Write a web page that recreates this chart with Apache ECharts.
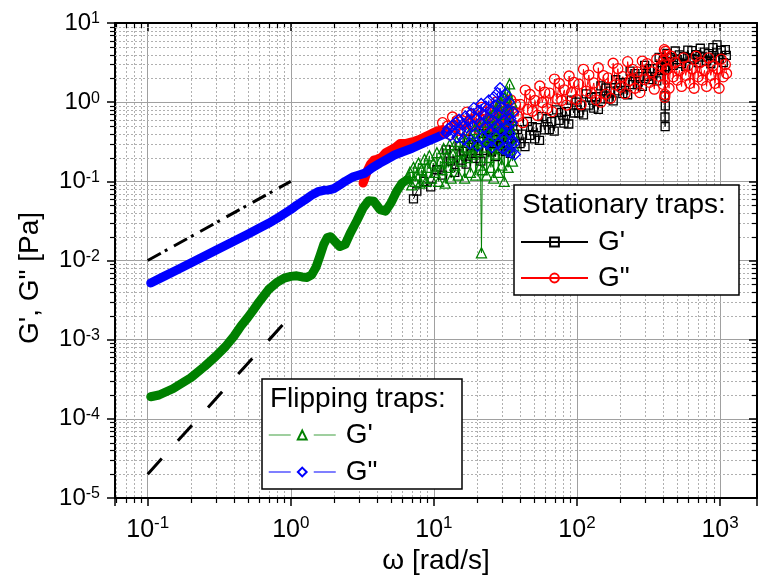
<!DOCTYPE html>
<html>
<head>
<meta charset="UTF-8">
<title>G', G" vs omega</title>
<script src="https://cdn.jsdelivr.net/npm/echarts@6/dist/echarts.min.js"></script>
<style>
  html, body { margin: 0; padding: 0; background: #fff; }
  #chart { width: 759px; height: 585px; }
</style>
</head>
<body>
<div id="chart"></div>
<script>
// axis ranges
const xMin = 0.0591, xMax = 1811, yMin = 1e-5, yMax = 10;
const xDecades = [0.01, 0.1, 1, 10, 100, 1000];
const yDecades = [1e-5, 1e-4, 1e-3, 1e-2, 1e-1, 1];
const minorSteps = [2, 3, 4, 5, 6, 7, 8, 9];

// guide lines (slope 1 and slope 2)
const refX = [0.1, 1];
const refSlope1Y = [0.01, 0.1];
const refSlope2Y = [2e-5, 2e-3];

// flipping traps G' : dense low-frequency part
const flipG1BandX = [0.105, 0.12, 0.15, 0.2, 0.25, 0.3, 0.35, 0.4, 0.45, 0.5, 0.55, 0.6, 0.7, 0.8, 0.9, 1.0, 1.1, 1.2, 1.3, 1.4,
  1.5, 1.6, 1.7, 1.8, 1.9, 2.0, 2.2, 2.4, 2.6, 2.9, 3.2, 3.5, 3.8, 4.2, 4.6, 5.0, 5.5, 6.0, 6.5];
const flipG1BandY = [1.9e-4, 2.0e-4, 2.4e-4, 3.3e-4, 4.6e-4, 6.2e-4, 8.2e-4, 1.1e-3, 1.5e-3, 1.9e-3, 2.4e-3, 3.0e-3, 4.3e-3, 5.3e-3, 6.0e-3, 6.3e-3, 6.4e-3, 6.2e-3, 6.1e-3, 6.6e-3,
  8.2e-3, 1.15e-2, 1.6e-2, 1.95e-2, 2.0e-2, 1.8e-2, 1.5e-2, 1.6e-2, 2.2e-2, 3.2e-2, 4.6e-2, 5.7e-2, 5.6e-2, 4.4e-2, 4.2e-2, 5.3e-2, 7.5e-2, 9.5e-2, 0.105];
// flipping traps G' : noisy high-frequency part
const flipG1X = [6.6, 6.8, 7.0, 7.2, 7.4, 7.6, 7.8, 8.0, 8.2, 8.4, 8.6, 8.8, 9.0, 9.3, 9.6, 9.9, 10.2, 10.5, 10.8, 11.1,
  11.4, 11.7, 12.0, 12.3, 12.6, 12.9, 13.2, 13.6, 14.0, 14.4, 14.8, 15.2, 15.6, 16.0, 16.4, 16.8, 17.2, 17.6, 18.0, 18.4,
  18.8, 19.2, 19.6, 20.0, 20.4, 20.8, 21.2, 21.5, 21.8, 22.2, 22.6, 23.0, 23.4, 23.8, 24.2, 24.6, 25.0, 25.4, 25.8, 26.2,
  26.6, 27.0, 27.4, 27.8, 28.2, 28.6, 29.0, 29.4, 29.8, 30.2, 30.6, 31.0, 31.4, 31.8, 32.2, 32.6, 33.0, 33.4, 33.8, 34.2,
  34.6, 35.0, 35.4, 35.8, 36.2];
const flipG1Y = [0.11, 0.13, 0.09, 0.15, 0.1, 0.12, 0.17, 0.095, 0.14, 0.11, 0.19, 0.1, 0.15, 0.21, 0.11, 0.17, 0.13, 0.23, 0.1, 0.18,
  0.14, 0.26, 0.095, 0.2, 0.15, 0.29, 0.11, 0.22, 0.16, 0.32, 0.12, 0.24, 0.18, 0.36, 0.11, 0.27, 0.2, 0.4, 0.13, 0.3,
  0.22, 0.45, 0.12, 0.33, 0.24, 0.5, 0.16, 0.0125, 0.14, 0.37, 0.27, 0.56, 0.12, 0.4, 0.2, 0.65, 0.15, 0.3, 0.48, 0.11,
  0.75, 0.22, 0.38, 0.9, 0.13, 0.55, 0.26, 1.0, 0.16, 0.42, 0.7, 0.1, 1.15, 0.3, 0.5, 1.35, 0.15, 0.8, 1.7, 0.25,
  0.6, 1.0, 0.18, 0.4, 0.28];

// flipping traps G"
const flipG2BandX = [0.105, 0.13, 0.16, 0.2, 0.25, 0.3, 0.4, 0.5, 0.6, 0.7, 0.8, 0.9, 1.0, 1.1, 1.25, 1.4, 1.55, 1.7, 1.85, 2.0,
  2.2, 2.4, 2.7, 3.0, 3.3, 3.7, 4.2, 4.7, 5.3, 6.0, 7.0, 8.0, 9.0, 10.5, 12.0];
const flipG2BandY = [0.0052, 0.0063, 0.0076, 0.0093, 0.0114, 0.0135, 0.0175, 0.0215, 0.0255, 0.0295, 0.034, 0.039, 0.044, 0.05, 0.058, 0.067, 0.074, 0.077, 0.078, 0.081,
  0.09, 0.1, 0.113, 0.12, 0.127, 0.148, 0.17, 0.19, 0.215, 0.235, 0.26, 0.29, 0.32, 0.36, 0.4];
const flipG2X = [12.2, 12.6, 13.0, 13.4, 13.8, 14.2, 14.6, 15.0, 15.4, 15.8, 16.2, 16.6, 17.0, 17.4, 17.8, 18.2, 18.6, 19.0, 19.4, 19.8,
  20.2, 20.6, 21.0, 21.4, 21.8, 22.2, 22.6, 23.0, 23.4, 23.8, 24.2, 24.6, 25.0, 25.4, 25.8, 26.2, 26.6, 27.0, 27.4, 27.8,
  28.2, 28.6, 29.0, 29.4, 29.8, 30.2, 30.6, 31.0, 31.4, 31.8, 32.2, 32.6, 33.0, 33.4, 33.8, 34.2, 34.6, 35.0, 35.4, 35.8,
  36.2, 36.8];
const flipG2Y = [0.41, 0.46, 0.38, 0.5, 0.43, 0.55, 0.36, 0.6, 0.45, 0.52, 0.34, 0.66, 0.48, 0.58, 0.3, 0.72, 0.5, 0.84, 0.4, 0.62,
  0.28, 0.78, 0.55, 0.95, 0.36, 0.7, 0.48, 0.88, 0.3, 0.62, 1.05, 0.42, 0.8, 0.27, 0.58, 1.15, 0.38, 0.9, 0.5, 1.3,
  0.3, 0.68, 1.5, 0.45, 0.85, 0.26, 1.1, 0.6, 0.35, 1.25, 0.5, 0.24, 0.8, 1.0, 0.4, 0.62, 0.23, 0.55, 0.33, 0.75,
  0.3, 0.22];

// stationary traps G'
const statG1X = [7.2, 7.6, 8.5, 9.5, 10.5, 11.5, 12.2, 13, 14,
  15, 15.6, 16.2, 16.8, 17.5, 18.2, 18.9, 19.7, 20.5, 21.3, 22.2, 23.1, 24, 25, 26, 27, 28.1, 29.2, 30.4, 31.6,
  32.9, 34.2, 35.6, 37, 38.5, 40, 41.6, 43.3, 45, 46.8, 48.7,
  50.6, 52.6, 54.7, 56.9, 59.2, 61.6, 64, 66.6, 69.3, 72, 74.9, 77.9, 81, 84.3, 87.6, 91.1, 94.8, 98.6, 103, 107,
  111, 116, 121, 126, 131, 136, 141, 147, 153, 159, 165, 172, 179, 186, 193, 201, 209, 217, 226, 235,
  244, 254, 264, 275, 286, 297, 309, 321, 334, 347, 361, 375, 390, 402, 409, 411, 412, 413, 414, 417,
  425, 440, 455, 470, 486, 502, 520, 538, 556, 575, 595, 615, 636, 658, 680, 703, 727, 752, 778, 805,
  832, 861, 890, 920, 952, 984, 1018, 1052, 1088, 1105];
const statG1Y = [0.06, 0.075, 0.1, 0.085, 0.14, 0.12, 0.25, 0.18, 0.13,
  0.28, 0.185, 0.24, 0.165, 0.34, 0.225, 0.29, 0.195, 0.28, 0.18, 0.4, 0.245, 0.355, 0.235, 0.3, 0.205, 0.425, 0.28, 0.36, 0.24,
  0.345, 0.225, 0.5, 0.3, 0.45, 0.3, 0.395, 0.275, 0.57, 0.38, 0.49,
  0.344, 0.476, 0.33, 0.655, 0.446, 0.617, 0.45, 0.567, 0.43, 0.8, 0.59, 0.74, 0.544, 0.76, 0.53, 1.06, 0.73, 1.0, 0.73, 0.92,
  0.69, 1.27, 0.92, 1.15, 0.84, 1.17, 0.81, 1.61, 1.1, 1.51, 1.1, 1.38, 1.04, 1.92, 1.39, 1.77, 1.28, 1.78, 1.24, 2.46,
  1.67, 2.3, 1.67, 2.1, 1.58, 2.92, 2.12, 2.66, 1.93, 2.66, 1.86, 3.68, 2.51, 3.45, 2.6, 1.2, 0.65, 0.49, 0.9, 2.8,
  4.14, 3.2, 3.67, 2.92, 4.43, 3.44, 3.96, 3.06, 3.78, 2.84, 4.54, 3.63, 4.49, 3.47, 3.98, 3.16, 4.8, 3.72, 4.29, 3.32,
  4.1, 3.08, 4.9, 3.63, 5.3, 3.47, 4.5, 3.16, 4.6, 3.9];

// stationary traps G"
const statG2BandX = [3.2, 3.3, 3.45, 3.6, 3.8, 4.0, 4.3, 4.6, 5.0, 5.4, 5.8, 6.3, 6.8, 7.3, 8.0, 8.8, 9.6, 10.5, 11.5];
const statG2BandY = [0.095, 0.11, 0.14, 0.165, 0.185, 0.19, 0.2, 0.23, 0.25, 0.27, 0.3, 0.3, 0.31, 0.32, 0.34, 0.37, 0.4, 0.43, 0.45];
const statG2X = [11.5, 12, 12.5, 13, 13.5, 14, 14.6, 15.2, 15.8, 16.4, 17, 17.7, 18.4, 19.1, 19.9,
  20.7, 21.5, 22.4, 23.3, 24.2, 25.2, 26.2, 27.2, 28.3, 29.4, 30.6, 31.8, 33.1, 34.4, 35.8, 37.2, 38.7,
  40.2, 41.8, 43.5, 45.2, 47, 48.9, 50.9, 52.9, 55, 57.2, 59.5, 61.9, 64.4, 67, 69.6, 72.4, 75.3, 78.3,
  81.5, 84.7, 88.1, 91.6, 95.3, 99.1, 103, 107, 111, 116, 121, 126, 131, 136, 141, 147, 153, 159, 165, 172,
  179, 186, 193, 201, 209, 217, 226, 235, 244, 254, 264, 275, 286, 297, 309, 321, 334, 347, 361, 375,
  390, 400, 405, 408, 410, 412, 415, 418, 422, 430, 440, 455, 470, 486, 502, 520, 538, 556, 575, 595,
  615, 636, 658, 680, 703, 727, 752, 778, 805, 832, 861, 890, 920, 952, 984, 1018, 1052, 1088, 1110];
const statG2Y = [0.55, 0.42, 0.5, 0.39, 0.65, 0.49, 0.59, 0.44, 0.58, 0.43, 0.75, 0.53, 0.7, 0.52, 0.63,
  0.45, 0.86, 0.6, 0.75, 0.52, 0.73, 0.49, 1.0, 0.65, 0.91, 0.63, 0.79, 0.57, 1.07, 0.75, 0.94, 0.66,
  0.94, 0.55, 1.42, 0.81, 1.25, 0.77, 1.05, 0.68, 1.6, 0.99, 1.34, 0.83, 1.3, 0.76, 1.96, 1.1, 1.72, 1.05,
  1.43, 0.92, 2.14, 1.32, 1.78, 1.08, 1.69, 0.93, 2.6, 1.38, 2.2, 1.29, 1.75, 1.07, 2.72, 1.0, 2.17, 1.26, 2.03, 1.12,
  3.1, 1.65, 2.65, 1.54, 2.1, 1.28, 3.25, 1.88, 2.59, 1.5, 2.42, 1.32, 3.3, 1.93, 3.07, 1.78, 2.42, 1.46, 3.5, 2.12,
  2.9, 1.68, 3.3, 4.6, 1.15, 1.25, 4.4, 3.9, 2.6, 2.64, 1.5, 3.8, 2.09, 3.17, 1.9, 2.52, 1.58, 3.62, 2.18, 2.88,
  1.73, 2.64, 1.5, 3.8, 2.09, 3.17, 1.9, 2.52, 1.58, 3.62, 2.18, 2.88, 1.73, 2.64, 1.5, 3.5, 2.09, 3.0, 2.3];

const FONT = '"Liberation Sans", Arial, sans-serif';
const zip = (xs, ys) => xs.map((x, i) => [x, ys[i]]);
const minorOf = (decades, lo, hi) => decades.flatMap(d => minorSteps.map(m => d * m)).filter(v => v > lo && v < hi);
const minorX = minorOf(xDecades, xMin, xMax);
const minorY = minorOf(yDecades, yMin, yMax);

function isDecade(v) {
  const e = Math.log10(v);
  return Math.abs(e - Math.round(e)) < 1e-6;
}
function powLabel(v) {
  if (!isDecade(v)) return '';
  return '{b|10}{s|' + Math.round(Math.log10(v)) + '}';
}
const crisp = v => Math.round(v) + 0.5;

function renderMinorX(params, api) {
  const cs = params.coordSys;
  const x = crisp(api.coord([api.value(0), yMin])[0]);
  const top = cs.y, bot = cs.y + cs.height;
  return { type: 'group', children: [
    { type: 'line', shape: { x1: x, y1: top, x2: x, y2: bot }, style: { stroke: '#b0b0b0', lineWidth: 1, lineDash: [2, 2] } },
    { type: 'line', shape: { x1: x, y1: bot, x2: x, y2: bot + 5 }, style: { stroke: '#000', lineWidth: 1.2 } },
    { type: 'line', shape: { x1: x, y1: top, x2: x, y2: top + 5 }, style: { stroke: '#000', lineWidth: 1.2 } }
  ] };
}
function renderMinorY(params, api) {
  const cs = params.coordSys;
  const y = crisp(api.coord([xMin, api.value(1)])[1]);
  const left = cs.x, right = cs.x + cs.width;
  return { type: 'group', children: [
    { type: 'line', shape: { x1: left, y1: y, x2: right, y2: y }, style: { stroke: '#b0b0b0', lineWidth: 1, lineDash: [2, 2] } },
    { type: 'line', shape: { x1: left - 5, y1: y, x2: left, y2: y }, style: { stroke: '#000', lineWidth: 1.2 } },
    { type: 'line', shape: { x1: right - 5, y1: y, x2: right, y2: y }, style: { stroke: '#000', lineWidth: 1.2 } }
  ] };
}

function bandSeries(name, xs, ys, color) {
  return { name: name, type: 'line', data: zip(xs, ys), showSymbol: false, z: 2,
    lineStyle: { color: color, width: 9, cap: 'round', join: 'round' } };
}
function markerSeries(name, xs, ys, color, symbol, size) {
  return { name: name, type: 'line', data: zip(xs, ys), symbol: symbol, symbolSize: size, showSymbol: true, z: 2,
    lineStyle: { color: color, width: 1 },
    itemStyle: { color: 'rgba(255,255,255,0)', borderColor: color, borderWidth: 1.3 } };
}

const axisLineStyle = { show: true, onZero: false, lineStyle: { color: '#000', width: 2 } };
const majorTick = inside => ({ show: true, inside: inside, length: 8, lineStyle: { color: '#000', width: 1.5 } });

const chart = echarts.init(document.getElementById('chart'));
chart.setOption({
  animation: false,
  textStyle: { fontFamily: FONT },
  grid: { left: 115, right: 2, top: 23, bottom: 87, containLabel: false, outerBoundsMode: 'none' },
  xAxis: [
    { type: 'log', logBase: 10, min: xMin, max: xMax, position: 'bottom',
      axisLine: axisLineStyle, axisTick: majorTick(false),
      axisLabel: { margin: 17, color: '#000', formatter: powLabel,
        rich: { b: { fontSize: 25, lineHeight: 30, fontFamily: FONT, color: '#000' },
                s: { fontSize: 17, lineHeight: 12, verticalAlign: 'top', fontFamily: FONT, color: '#000' } } },
      splitLine: { show: true, lineStyle: { color: '#a0a0a0', width: 1 } },
      name: 'ω [rad/s]', nameLocation: 'middle', nameGap: 45,
      nameTextStyle: { fontSize: 28, color: '#000', fontFamily: FONT } },
    { type: 'log', logBase: 10, min: xMin, max: xMax, position: 'top',
      axisLine: axisLineStyle, axisTick: majorTick(true), axisLabel: { show: false }, splitLine: { show: false } }
  ],
  yAxis: [
    { type: 'log', logBase: 10, min: yMin, max: yMax, position: 'left',
      axisLine: axisLineStyle, axisTick: majorTick(false),
      axisLabel: { margin: 15, color: '#000', formatter: powLabel,
        rich: { b: { fontSize: 24, lineHeight: 24, fontFamily: FONT, color: '#000' },
                s: { fontSize: 16, lineHeight: 12, verticalAlign: 'top', fontFamily: FONT, color: '#000' } } },
      splitLine: { show: true, lineStyle: { color: '#a0a0a0', width: 1 } } },
    { type: 'log', logBase: 10, min: yMin, max: yMax, position: 'right',
      axisLine: axisLineStyle, axisTick: majorTick(true), axisLabel: { show: false }, splitLine: { show: false } }
  ],
  legend: [
    { left: 520, top: 227, orient: 'vertical', padding: 0, itemWidth: 67, itemHeight: 11, itemGap: 6,
      selectedMode: false, z: 5,
      data: ["Stationary G'", 'Stationary G"'],
      formatter: n => n.replace('Stationary ', ''),
      textStyle: { fontSize: 28, lineHeight: 30, color: '#000', fontFamily: FONT, padding: [0, 0, 0, 5] } },
    { left: 268, top: 420, orient: 'vertical', padding: 0, itemWidth: 67, itemHeight: 11, itemGap: 7,
      selectedMode: false, z: 5,
      data: [
        { name: "Flipping G'", lineStyle: { type: [22, 23], color: '#80c080', width: 1.5 } },
        { name: 'Flipping G"', lineStyle: { type: [22, 23], color: '#0000ff', width: 1.2 } }
      ],
      formatter: n => n.replace('Flipping ', ''),
      textStyle: { fontSize: 28, lineHeight: 30, color: '#000', fontFamily: FONT, padding: [0, 0, 0, 5] } }
  ],
  graphic: [
    { type: 'rect', z: 3, shape: { x: 514, y: 185, width: 225, height: 110 },
      style: { fill: '#fff', stroke: '#000', lineWidth: 1.5 } },
    { type: 'rect', z: 3, shape: { x: 262, y: 379, width: 200, height: 110 },
      style: { fill: '#fff', stroke: '#000', lineWidth: 1.5 } },
    { type: 'text', z: 6, x: 522, y: 205,
      style: { text: 'Stationary traps:', font: '28px ' + FONT, fill: '#000', align: 'left', verticalAlign: 'middle' } },
    { type: 'text', z: 6, x: 270, y: 399,
      style: { text: 'Flipping traps:', font: '28px ' + FONT, fill: '#000', align: 'left', verticalAlign: 'middle' } },
    { type: 'text', z: 6, x: 30, y: 278, rotation: Math.PI / 2,
      style: { text: 'G\', G" [Pa]', font: '28px ' + FONT, fill: '#000', align: 'center', verticalAlign: 'middle' } }
  ],
  series: [
    { type: 'custom', name: 'minorX', renderItem: renderMinorX, clip: false, z: 1, silent: true,
      data: minorX.map(v => [v, 1]), encode: { x: 0, y: 1 } },
    { type: 'custom', name: 'minorY', renderItem: renderMinorY, clip: false, z: 1, silent: true,
      data: minorY.map(v => [1, v]), encode: { x: 0, y: 1 } },
    markerSeries("Stationary G'", statG1X, statG1Y, '#000000', 'rect', 8),
    bandSeries('Stationary G" band', statG2BandX, statG2BandY, '#ff0000'),
    markerSeries('Stationary G"', statG2X, statG2Y, '#ff0000', 'circle', 10),
    bandSeries("Flipping G' band", flipG1BandX, flipG1BandY, '#008000'),
    markerSeries("Flipping G'", flipG1X, flipG1Y, '#008000', 'triangle', 10),
    bandSeries('Flipping G" band', flipG2BandX, flipG2BandY, '#0000ff'),
    markerSeries('Flipping G"', flipG2X, flipG2Y, '#0000ff', 'diamond', 11),
    { name: 'slope 1', type: 'line', data: zip(refX, refSlope1Y), showSymbol: false, z: 2,
      lineStyle: { color: '#000', width: 3, type: [15, 4.5, 3, 7.5] } },
    { name: 'slope 2', type: 'line', data: zip(refX, refSlope2Y), showSymbol: false, z: 2,
      lineStyle: { color: '#000', width: 3, type: [21, 24] } }
  ]
});
</script>
</body>
</html>
